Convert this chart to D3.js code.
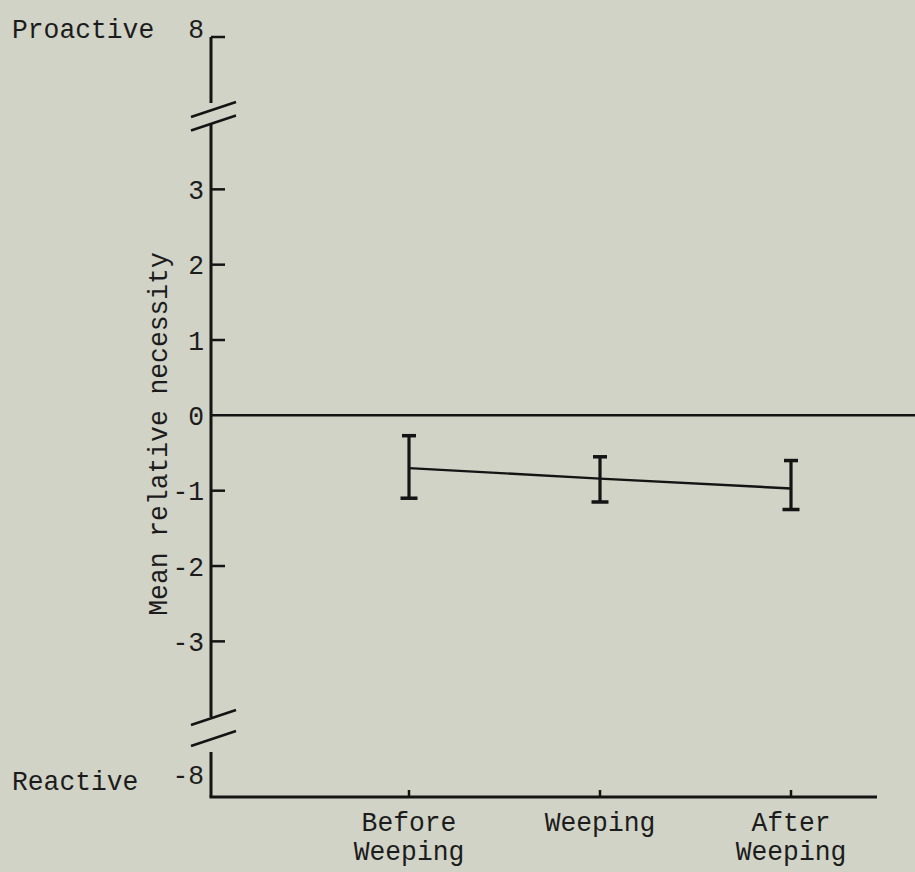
<!DOCTYPE html>
<meta charset="utf-8">
<script src="https://d3js.org/d3.v7.min.js"></script>
<style>
  body { margin: 0; background: #d1d3c7; }
  text { font-family: "Liberation Mono", "DejaVu Sans Mono", monospace; fill: #1c1c1c; }
</style>
<div id="chart"></div>
<script>
// data
var phases = ["Before Weeping", "Weeping", "After Weeping"];
var phaseLines = [["Before", "Weeping"], ["Weeping"], ["After", "Weeping"]];
var means = [-0.70, -0.84, -0.97];
var upper = [-0.27, -0.55, -0.60];
var lower = [-1.10, -1.15, -1.25];
var yTicks = [8, 3, 2, 1, 0, -1, -2, -3, -8];

var width = 915, height = 872;
var fontSize = "28px", charW = 15.8;

// squeeze the mono font so glyphs look taller, like a typewriter face
function typewriter(sel) {
  sel.style("font-size", fontSize)
    .attr("lengthAdjust", "spacingAndGlyphs")
    .attr("textLength", function(){ return d3.select(this).text().length * charW; });
}

var svg = d3.select("#chart")
  .append("svg")
    .attr("width", width)
    .attr("height", height);

svg.append("rect")
  .attr("width", width).attr("height", height)
  .attr("fill", "#d1d3c7");

// x scale: category positions
var x = d3.scalePoint()
  .domain(phases)
  .range([409, 791]);

// broken y scale: -8 .. -4.15 | -4.15 .. 4 | 4 .. 8
var y = d3.scaleLinear()
  .domain([-8, -4.15, 4, 8])
  .range([797, 728, 114, 37]);

var axisX = 211, axisRight = 877;
var ink = "#141414";

// y axis pieces
var segs = [
  [y(8), y(4) - 11],
  [y(4) + 9, y(-4.15) - 11],
  [y(-4.15) + 24, y(-8)]
];
svg.selectAll(".yseg")
  .data(segs)
  .enter().append("line")
    .attr("x1", axisX).attr("x2", axisX)
    .attr("y1", function(d){ return d[0]; })
    .attr("y2", function(d){ return d[1]; })
    .attr("stroke", ink).attr("stroke-width", 3);

// break slashes
var slashes = [y(4) - 4, y(4) + 9.5, y(-4.15) - 10, y(-4.15) + 11];
svg.selectAll(".slash")
  .data(slashes)
  .enter().append("line")
    .attr("x1", axisX - 20).attr("x2", axisX + 25)
    .attr("y1", function(d){ return d + 7; })
    .attr("y2", function(d){ return d - 8; })
    .attr("stroke", ink).attr("stroke-width", 2.5);

// ticks
svg.selectAll(".ytick")
  .data(yTicks.filter(function(d){ return d !== -8 && d !== 0; }))
  .enter().append("line")
    .attr("x1", axisX).attr("x2", axisX + 14)
    .attr("y1", function(d){ return y(d); })
    .attr("y2", function(d){ return y(d); })
    .attr("stroke", ink).attr("stroke-width", 2.5);

// tick labels
svg.selectAll(".ylab")
  .data(yTicks)
  .enter().append("text")
    .attr("x", 204)
    .attr("y", function(d){
      if (d === 8) return y(d) + 1;
      if (d === -8) return y(d) - 13;
      return y(d);
    })
    .attr("dy", function(d){ return Math.abs(d) === 8 ? 0 : "0.35em"; })
    .attr("text-anchor", "end")
    .text(function(d){ return d; })
    .call(typewriter);

svg.append("text")
  .attr("x", 12).attr("y", y(8) + 1)
  .text("Proactive")
  .call(typewriter);

svg.append("text")
  .attr("x", 12).attr("y", y(-8) - 7)
  .text("Reactive")
  .call(typewriter);

svg.append("text")
  .attr("transform", "translate(167," + 434 + ") rotate(-90)")
  .attr("text-anchor", "middle")
  .text("Mean relative necessity")
  .call(typewriter);

// zero line
svg.append("line")
  .attr("x1", axisX).attr("x2", width)
  .attr("y1", y(0)).attr("y2", y(0))
  .attr("stroke", ink).attr("stroke-width", 2.5);

// x axis
svg.append("line")
  .attr("x1", axisX - 1.5).attr("x2", axisRight)
  .attr("y1", y(-8)).attr("y2", y(-8))
  .attr("stroke", ink).attr("stroke-width", 3);

svg.selectAll(".xtick")
  .data(phases)
  .enter().append("line")
    .attr("x1", function(d){ return x(d); })
    .attr("x2", function(d){ return x(d); })
    .attr("y1", y(-8)).attr("y2", y(-8) - 7)
    .attr("stroke", ink).attr("stroke-width", 2.5);

// category labels, one text each, wrapped with tspans
svg.selectAll(".xlab")
  .data(phases)
  .enter().append("text")
    .attr("text-anchor", "middle")
    .style("font-size", fontSize)
  .each(function(d, i){
    var t = d3.select(this);
    phaseLines[i].forEach(function(s, j){
      t.append("tspan")
        .attr("x", x(d))
        .attr("y", y(-8) + 34 + j * 29)
        .text(s)
        .call(typewriter);
    });
  });

// mean line
var line = d3.line()
  .x(function(d, i){ return x(phases[i]); })
  .y(function(d){ return y(d); });

svg.append("path")
  .datum(means)
  .attr("d", line)
  .attr("fill", "none")
  .attr("stroke", ink)
  .attr("stroke-width", 2.4);

// error bars
var bars = svg.selectAll(".err")
  .data(phases)
  .enter().append("g");

bars.append("line")
  .attr("x1", function(d){ return x(d); })
  .attr("x2", function(d){ return x(d); })
  .attr("y1", function(d, i){ return y(upper[i]); })
  .attr("y2", function(d, i){ return y(lower[i]); })
  .attr("stroke", ink).attr("stroke-width", 3.2);

bars.append("line")
  .attr("x1", function(d){ return x(d) - 7; })
  .attr("x2", function(d){ return x(d) + 7; })
  .attr("y1", function(d, i){ return y(upper[i]); })
  .attr("y2", function(d, i){ return y(upper[i]); })
  .attr("stroke", ink).attr("stroke-width", 3.5);

bars.append("line")
  .attr("x1", function(d){ return x(d) - 8.5; })
  .attr("x2", function(d){ return x(d) + 8.5; })
  .attr("y1", function(d, i){ return y(lower[i]); })
  .attr("y2", function(d, i){ return y(lower[i]); })
  .attr("stroke", ink).attr("stroke-width", 3.5);
</script>
